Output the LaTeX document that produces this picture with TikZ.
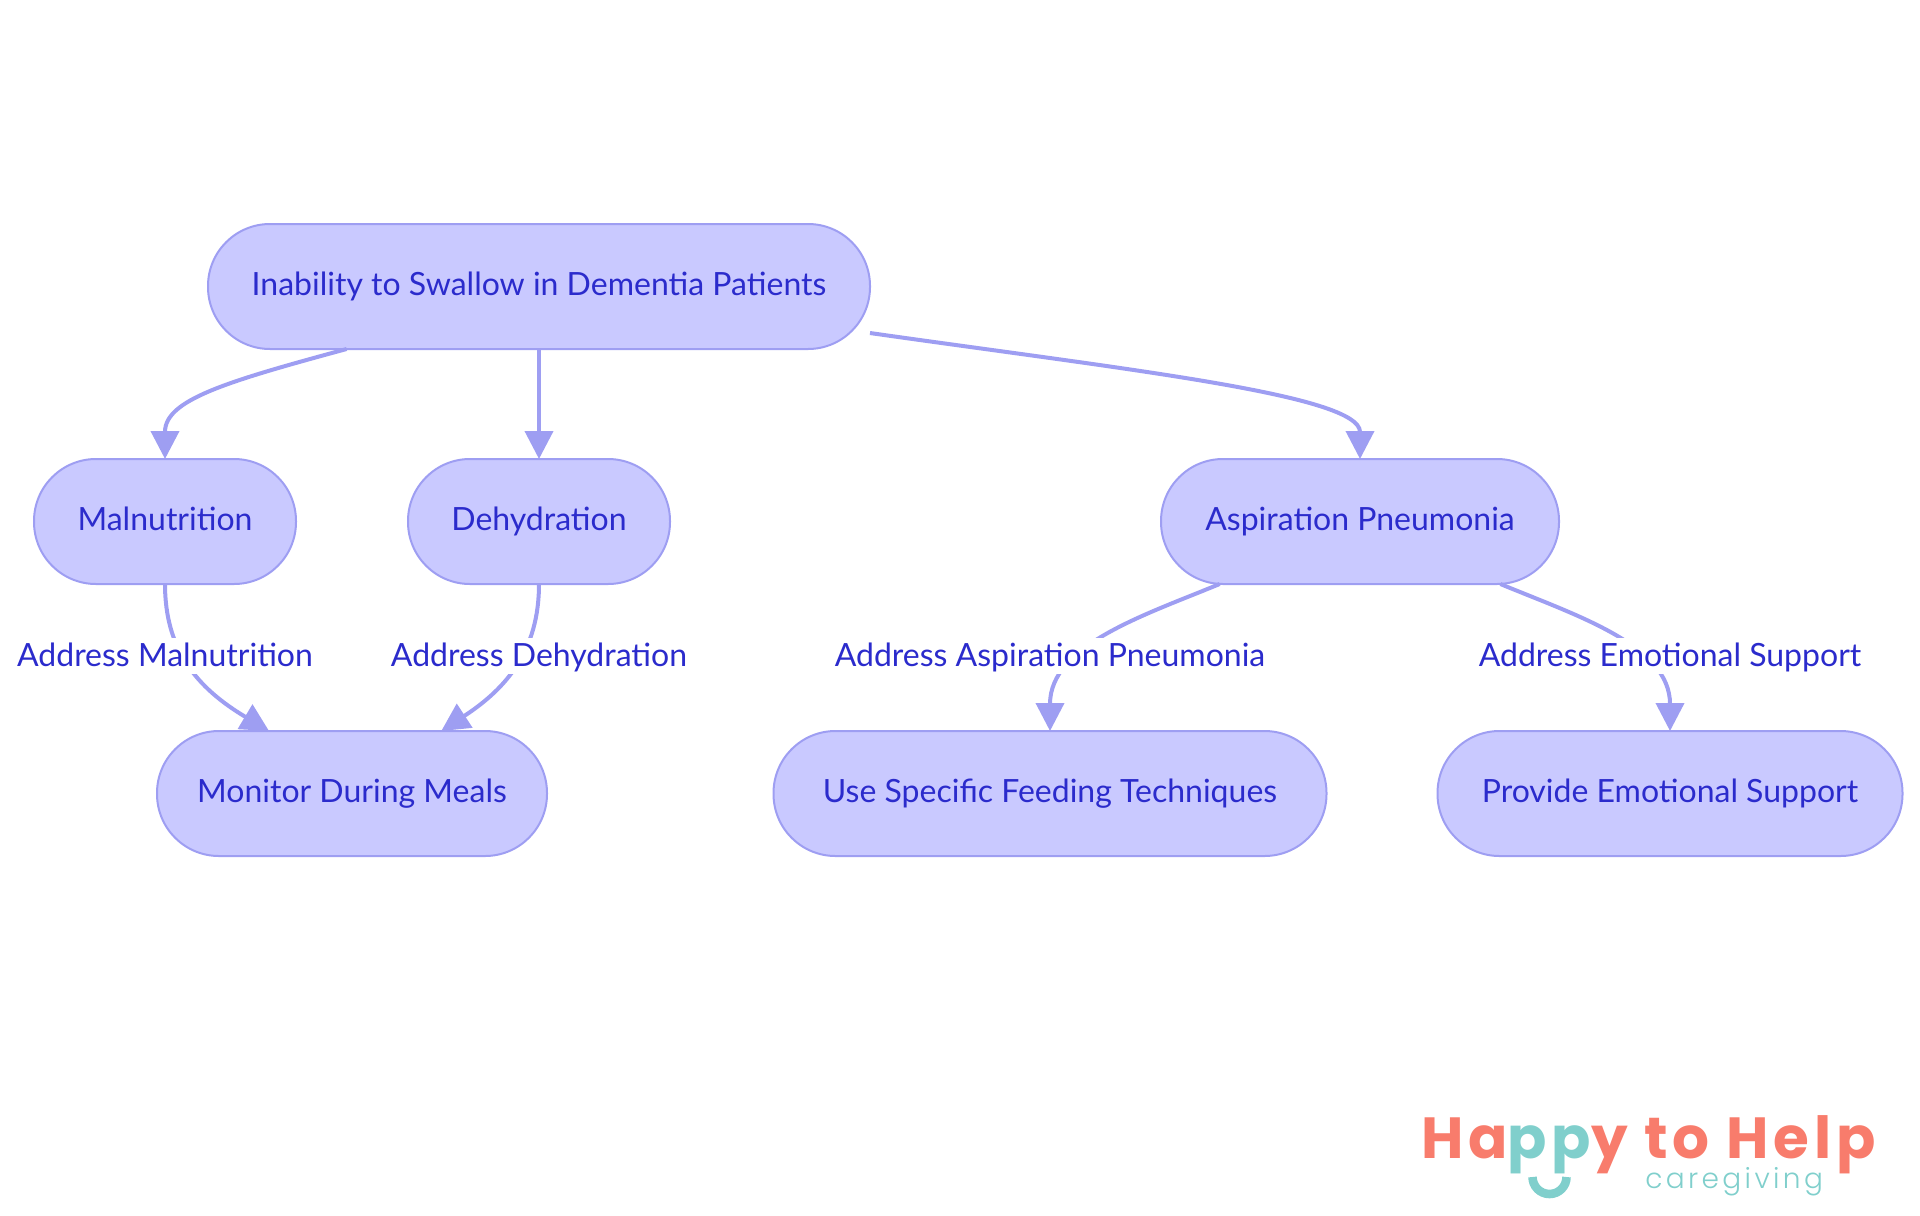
\documentclass[tikz,border=0pt]{standalone}
\usepackage{fontspec}
\setmainfont{Lato}
\newfontfamily\logofont{Poppins}[LetterSpace=8]
\newfontfamily\subfont{Poppins Light}[LetterSpace=12]
\usetikzlibrary{positioning,arrows.meta}
\definecolor{nodefill}{HTML}{C9C9FF}
\definecolor{nodeline}{HTML}{9E9EF2}
\definecolor{nodetext}{HTML}{2B2BCC}
\definecolor{coral}{HTML}{F87C6C}
\definecolor{teal}{HTML}{80CFCC}
\begin{document}
\begin{tikzpicture}[x=0.5pt,y=-0.5pt,b/.style={draw=nodeline,line width=1pt,fill=nodefill,text=nodetext,font=\fontsize{16}{18}\selectfont,rounded corners=31pt,minimum height=62.5pt,inner sep=0pt,outer sep=0pt,text height=12pt,text depth=3pt},a/.style={-{Triangle[length=14pt,width=14pt]},line width=2pt,draw=nodeline},l/.style={fill=white,text=nodetext,font=\fontsize{16}{18}\selectfont,inner sep=0pt,outer sep=0pt,text height=14pt,text depth=4pt,anchor=center}]
\useasboundingbox (0,0) rectangle (1920,1215);
\node[b,minimum width=331pt](top) at (539,286.5){Inability to Swallow in Dementia Patients};
\node[b,minimum width=131pt,below=55pt of top](dehy){Dehydration};
\node[b,minimum width=131pt,left=56pt of dehy](maln){Malnutrition};
\node[b,minimum width=199pt,right=245.5pt of dehy](aspi){Aspiration Pneumonia};
\node[b,minimum width=195pt,below=73.5pt of maln,xshift=93.5pt](moni){Monitor During Meals};
\node[b,minimum width=276.5pt,below=73.5pt of aspi,xshift=-155pt](feed){Use Specific Feeding Techniques};
\node[b,minimum width=232.5pt,below=73.5pt of aspi,xshift=155pt](emot){Provide Emotional Support};
\draw[a](top.-162.3) .. controls (225,382) and (165,400) .. (maln.north);
\draw[a](top)--(dehy);
\draw[a](top.-8.1) .. controls (1130,370) and (1360,395) .. (aspi.north);
\draw[a](maln.south) .. controls (165,650) and (197,688) .. (moni.143.9);
\draw[a](dehy.south) .. controls (539,650) and (507,688) .. (moni.35.8);
\draw[a](aspi.204) .. controls (1145,615) and (1050,645) .. (feed.north);
\draw[a](aspi.-24) .. controls (1575,615) and (1670,645) .. (emot.north);
\node[l,below=36pt of maln.south,anchor=center](lmaln){Address Malnutrition};
\node[l,below=36pt of dehy.south,anchor=center](ldehy){Address Dehydration};
\node[l,below=36pt of aspi.south,anchor=center,xshift=-155pt](lfeed){Address Aspiration Pneumonia};
\node[l,below=36pt of aspi.south,anchor=center,xshift=155pt](lemot){Address Emotional Support};
\node[anchor=base west,inner sep=0pt,font=\logofont\bfseries\fontsize{29}{31}\selectfont,text=coral](logo) at (1421,1158){Ha{\color{teal}pp}y to Help};
\node[anchor=base west,inner sep=0pt,font=\subfont\fontsize{14}{16}\selectfont,text=teal](care) at (1645,1188){caregiving};
\coordinate(smile) at (1532.5,1177);
\draw[teal,line width=4.3pt](smile) arc[start angle=180,end angle=360,radius=8.5pt];
\end{tikzpicture}
\end{document}
